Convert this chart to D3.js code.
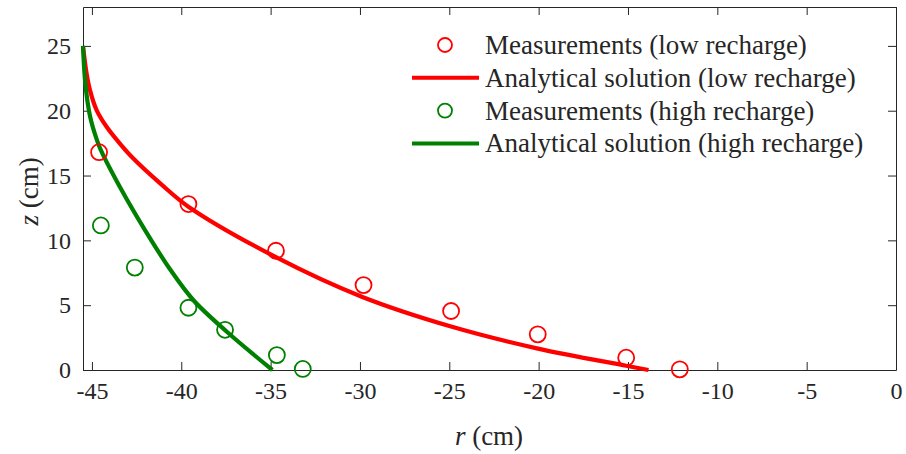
<!DOCTYPE html>
<html>
<head>
<meta charset="utf-8">
<script src="https://cdn.jsdelivr.net/npm/d3@7"></script>
<style>
	body { margin: 0; background: #fff; }
	svg text { font-family: "Liberation Serif", "Times New Roman", serif; fill: #262626; }
</style>
</head>
<body>
<div id="chart"></div>
<script>

// Data (r in cm, z in cm)
var lowMeasR = [-44.6, -39.6, -34.7, -29.8, -24.9, -20.05, -15.1, -12.1];
var lowMeasZ = [16.8, 12.8, 9.2, 6.55, 4.55, 2.75, 0.95, 0.05];

var highMeasR = [-44.5, -42.6, -39.6, -37.55, -34.65, -33.2];
var highMeasZ = [11.15, 7.9, 4.8, 3.1, 1.15, 0.08];

var lowCurveR = [-45.5, -45.3, -45.11, -44.74, -44.18, -43.53, -42.78, -41.1, -39.6, -34.7, -29.9, -24.9, -20.1, -15.1, -13.85];
var lowCurveZ = [25, 22.88, 21.59, 20.05, 18.76, 17.62, 16.45, 14.3, 12.6, 8.7, 5.65, 3.35, 1.67, 0.33, 0];

var highCurveR = [-45.5, -45.37, -45.1, -44.72, -44.5, -43.34, -42.03, -40.62, -39.33, -37.45, -34.9];
var highCurveZ = [25, 22.1, 19.53, 17.73, 16.96, 13.88, 10.79, 7.75, 5.4, 2.95, 0];

var xTicks = [-45, -40, -35, -30, -25, -20, -15, -10, -5, 0];
var yTicks = [0, 5, 10, 15, 20, 25];

var legendLabels = [
	"Measurements (low recharge)",
	"Analytical solution (low recharge)",
	"Measurements (high recharge)",
	"Analytical solution (high recharge)"
];

// Drawing parameters
var width = 906, height = 454;
var plotLeft = 83, plotRight = 896, plotTop = 7, plotBottom = 370;
var axisColor = "#262626";
var red = "#ff0000", green = "#008000";
var tickLen = 8;
var tickFont = 24, labelFont = 27, legendFont = 27;

var zip = function(a, b) { return a.map(function(v, i) { return [v, b[i]]; }); };
var plainFormat = function(d) { return String(d); }; // hyphen minus like the original

var svg = d3.select("#chart").append("svg")
	.attr("width", width).attr("height", height);

var x = d3.scaleLinear().domain([-45.5, 0]).range([plotLeft, plotRight]);
var y = d3.scaleLinear().domain([0, 28]).range([plotBottom, plotTop]);

var styleAxis = function(g) {
	g.attr("font-family", null).attr("font-size", null);
	g.select(".domain").attr("stroke", axisColor);
	g.selectAll(".tick line").attr("stroke", axisColor);
	g.selectAll(".tick text").attr("font-size", tickFont).attr("fill", axisColor);
};

// Axes (box with inward ticks on all four sides)
svg.append("g")
	.attr("transform", "translate(0," + plotBottom + ")")
	.call(d3.axisBottom(x).tickValues(xTicks).tickSizeInner(-tickLen).tickSizeOuter(0).tickPadding(12).tickFormat(plainFormat))
	.call(styleAxis);

svg.append("g")
	.attr("transform", "translate(0," + plotTop + ")")
	.call(d3.axisTop(x).tickValues(xTicks).tickSizeInner(-tickLen).tickSizeOuter(0).tickFormat(""))
	.call(styleAxis);

svg.append("g")
	.attr("transform", "translate(" + plotLeft + ",0)")
	.call(d3.axisLeft(y).tickValues(yTicks).tickSizeInner(-tickLen).tickSizeOuter(0).tickPadding(12).tickFormat(plainFormat))
	.call(styleAxis);

svg.append("g")
	.attr("transform", "translate(" + plotRight + ",0)")
	.call(d3.axisRight(y).tickValues(yTicks).tickSizeInner(-tickLen).tickSizeOuter(0).tickFormat(""))
	.call(styleAxis);

// Axis labels
var xl = svg.append("text")
	.attr("x", 489).attr("y", 445)
	.attr("text-anchor", "middle")
	.attr("font-size", labelFont);
xl.append("tspan").attr("font-style", "italic").text("r");
xl.append("tspan").text(" (cm)");

var yl = svg.append("text")
	.attr("transform", "translate(38," + ((plotTop + plotBottom) / 2 + 3) + ") rotate(-90)")
	.attr("text-anchor", "middle")
	.attr("font-size", labelFont);
yl.append("tspan").attr("font-style", "italic").text("z");
yl.append("tspan").text(" (cm)");

// Curves
var line = d3.line()
	.x(function(d) { return x(d[0]); })
	.y(function(d) { return y(d[1]); })
	.curve(d3.curveCatmullRom.alpha(0.5));

svg.append("path")
	.datum(zip(lowCurveR, lowCurveZ))
	.attr("d", line)
	.attr("fill", "none").attr("stroke", red).attr("stroke-width", 4.2);

svg.append("path")
	.datum(zip(highCurveR, highCurveZ))
	.attr("d", line)
	.attr("fill", "none").attr("stroke", green).attr("stroke-width", 4.2);

// Measurement markers
svg.append("g").selectAll("circle")
	.data(zip(lowMeasR, lowMeasZ))
	.enter().append("circle")
	.attr("cx", function(d) { return x(d[0]); })
	.attr("cy", function(d) { return y(d[1]); })
	.attr("r", 8)
	.attr("fill", "none").attr("stroke", red).attr("stroke-width", 1.8);

svg.append("g").selectAll("circle")
	.data(zip(highMeasR, highMeasZ))
	.enter().append("circle")
	.attr("cx", function(d) { return x(d[0]); })
	.attr("cy", function(d) { return y(d[1]); })
	.attr("r", 8)
	.attr("fill", "none").attr("stroke", green).attr("stroke-width", 1.8);

// Legend
var legendX = 412, legendY = 45, legendDy = 32.8;
var legendColors = [red, red, green, green];
var legendKinds = ["marker", "line", "marker", "line"];

var legend = svg.append("g");
legendLabels.forEach(function(label, i) {
	var cy = legendY + i * legendDy;
	if (legendKinds[i] === "marker") {
		legend.append("circle")
			.attr("cx", legendX + 33).attr("cy", cy).attr("r", 7)
			.attr("fill", "none").attr("stroke", legendColors[i]).attr("stroke-width", 1.8);
	} else {
		legend.append("line")
			.attr("x1", legendX).attr("x2", legendX + 67)
			.attr("y1", cy).attr("y2", cy)
			.attr("stroke", legendColors[i]).attr("stroke-width", 4);
	}
	legend.append("text")
		.attr("x", legendX + 73).attr("y", cy + 9)
		.attr("font-size", legendFont)
		.text(label);
});

</script>
</body>
</html>
